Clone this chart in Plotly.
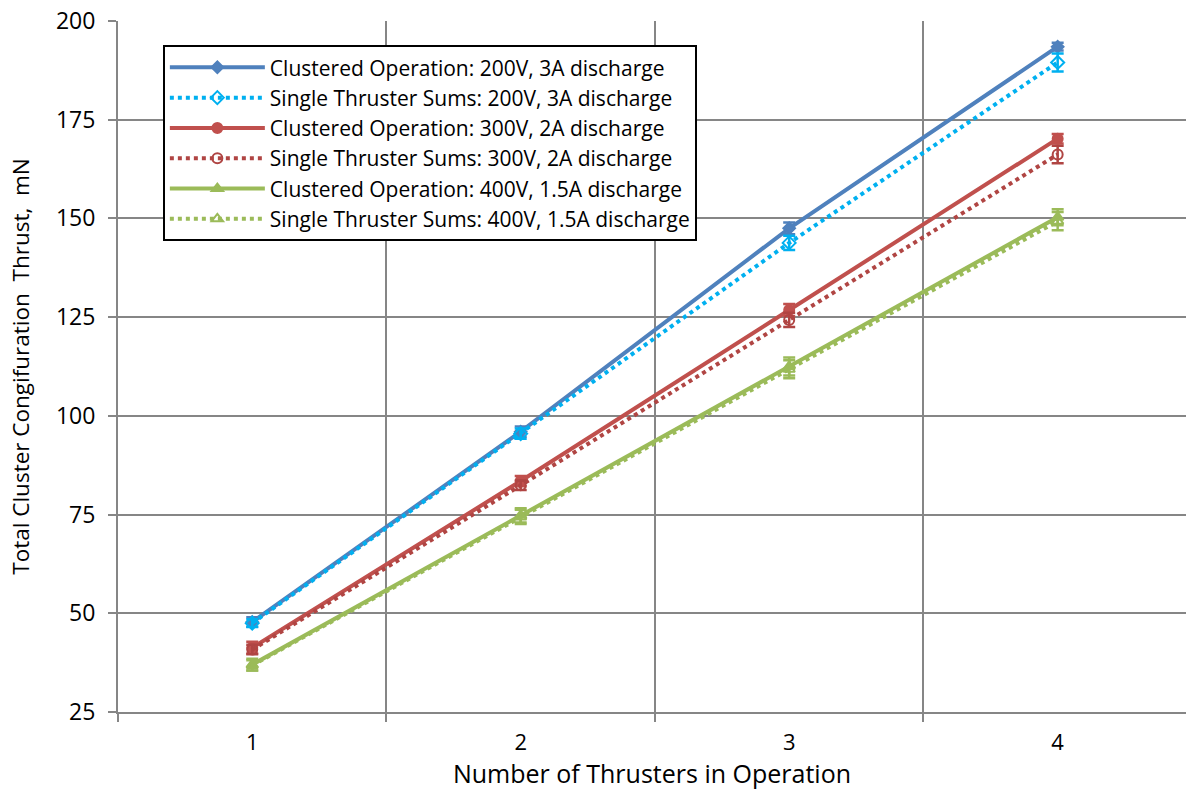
import plotly.graph_objects as go

thrusters = [1, 2, 3, 4]

clus_200 = [47.8, 96.0, 147.5, 193.5]
sum_200 = [47.5, 95.5, 143.8, 189.5]
clus_300 = [41.3, 83.5, 126.8, 170.2]
sum_300 = [40.8, 82.4, 124.3, 166.2]
clus_400 = [37.0, 74.8, 112.5, 150.3]
sum_400 = [36.8, 74.4, 111.8, 149.3]

err_clus_200 = [1.2, 1.3, 1.5, 1.0]
err_sum_200 = [1.0, 1.3, 1.8, 2.3]
err_clus_300 = [1.5, 1.3, 1.5, 1.2]
err_sum_300 = [1.2, 1.2, 1.8, 2.2]
err_clus_400 = [1.5, 1.8, 2.3, 2.0]
err_sum_400 = [1.3, 1.8, 2.3, 2.3]

series = [
    ("Clustered Operation: 200V, 3A discharge", clus_200, err_clus_200, "#4F81BD", "solid", "diamond", 9),
    ("Single Thruster Sums: 200V, 3A discharge", sum_200, err_sum_200, "#00B0F0", "dot", "diamond-open", 10),
    ("Clustered Operation: 300V, 2A discharge", clus_300, err_clus_300, "#C0504D", "solid", "circle", 10),
    ("Single Thruster Sums: 300V, 2A discharge", sum_300, err_sum_300, "#B04543", "dot", "circle-open", 10),
    ("Clustered Operation: 400V, 1.5A discharge", clus_400, err_clus_400, "#9BBB59", "solid", "triangle-up", 10),
    ("Single Thruster Sums: 400V, 1.5A discharge", sum_400, err_sum_400, "#9BBB59", "dot", "triangle-up-open", 10),
]

fig = go.Figure()
for name, vals, errs, color, dash, sym, size in series:
    fig.add_trace(go.Scatter(
        x=thrusters, y=vals, name=name, mode="lines+markers",
        line=dict(color=color, width=4, dash=dash),
        marker=dict(symbol=sym, size=size, color=color,
                    line=dict(color=color, width=2)),
        error_y=dict(type="data", array=errs, visible=True, color=color,
                     thickness=2.5, width=6),
    ))

grid = "#868686"
font = "Open Sans"
fig.update_layout(
    width=1186, height=791,
    margin=dict(l=118, r=0, t=21, b=79),
    paper_bgcolor="white", plot_bgcolor="white",
    font=dict(family=font, size=21, color="black"),
    showlegend=True,
    legend=dict(
        x=0.042, y=0.965, xanchor="left", yanchor="top",
        bgcolor="white", bordercolor="black", borderwidth=2,
        font=dict(family=font, size=21, color="black"),
        tracegroupgap=0, itemwidth=95,
    ),
    xaxis=dict(
        range=[0.5, 4.478],
        tickmode="array", tickvals=thrusters, ticktext=[str(t) for t in thrusters],
        ticks="", showgrid=False, zeroline=False,
        showline=True, linecolor=grid, linewidth=2,
        tickfont=dict(size=22), ticklabelstandoff=10,
        minor=dict(tickmode="array", tickvals=[0.5, 1.5, 2.5, 3.5, 4.5],
                   showgrid=True, gridcolor=grid, gridwidth=2,
                   ticks="outside", ticklen=8, tickcolor=grid, tickwidth=2),
        title=dict(text="Number of Thrusters in Operation", font=dict(size=25), standoff=3),
    ),
    yaxis=dict(
        range=[25, 200], tickmode="linear", tick0=25, dtick=25,
        showgrid=True, gridcolor=grid, gridwidth=2, zeroline=False,
        showline=True, linecolor=grid, linewidth=2,
        ticks="outside", ticklen=8, tickcolor=grid, tickwidth=2,
        tickfont=dict(size=23), ticklabelstandoff=8,
        title=dict(text="Total Cluster Congifuration  Thrust,  mN", font=dict(size=22.5), standoff=20),
    ),
)

fig.write_html("out.html")
